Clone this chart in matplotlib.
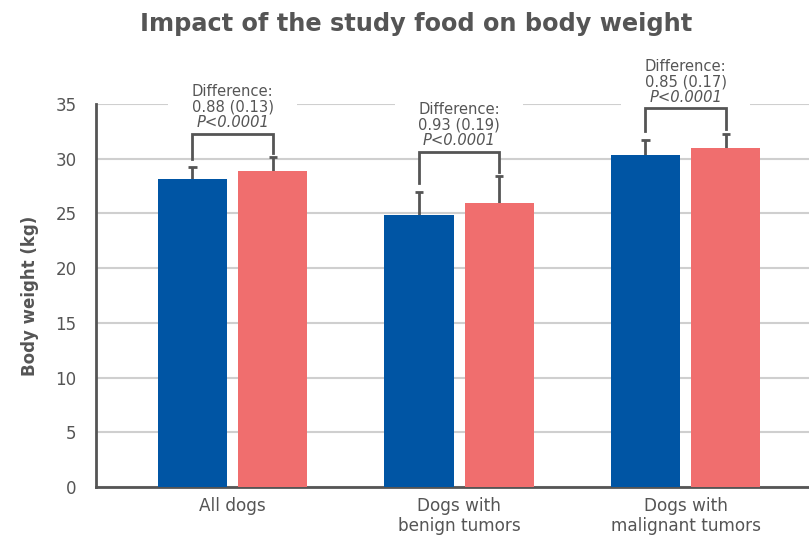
import matplotlib
matplotlib.use("Agg")
import matplotlib.pyplot as plt
from matplotlib.patches import Rectangle
import numpy as np

plt.rcParams['font.family'] = ['DejaVu Sans']

categories = ["All dogs", "Dogs with\nbenign tumors", "Dogs with\nmalignant tumors"]
baseline = [28.15, 24.85, 30.35]
final = [28.9, 25.95, 31.0]
baseline_err = [1.05, 2.1, 1.35]
final_err = [1.25, 2.45, 1.3]
diff_labels = ["0.88 (0.13)", "0.93 (0.19)", "0.85 (0.17)"]
p_labels = ["P<0.0001", "P<0.0001", "P<0.0001"]
bracket_tops = [32.3, 30.65, 34.6]
yticks = [0, 5, 10, 15, 20, 25, 30, 35]

gray = '#555555'
blue = '#0055a4'
red = '#f06e6e'

fig = plt.figure(figsize=(8.09, 5.37), dpi=100)
ax = fig.add_axes([96/809, 50/537, 1 - 96/809, (487-104)/537])

x = np.arange(len(categories))
w = 0.305
off = 0.177
cap = 0.018
ax.bar(x - off, baseline, w, color=blue, zorder=3)
ax.bar(x + off, final, w, color=red, zorder=3)
for xs, vals, errs in [(x - off, baseline, baseline_err), (x + off, final, final_err)]:
    tops = np.array(vals) + np.array(errs)
    ax.vlines(xs, vals, tops, color=gray, lw=2, zorder=2)
    ax.hlines(tops, xs - cap, xs + cap, color=gray, lw=2, zorder=2)

ax.set_ylim(0, 35)
ax.set_xlim(-0.603, 2.545)
ax.set_yticks(yticks)
ax.set_xticks(x)
ax.set_xticklabels(categories, fontsize=12.2, color=gray, linespacing=1.15)
ax.tick_params(axis='both', length=0, colors=gray)
ax.tick_params(axis='y', pad=14, labelsize=12)
ax.tick_params(axis='x', pad=7)
ax.grid(axis='y', color='#cfcfcf', linewidth=1.5, zorder=0)
ax.set_axisbelow(True)
for s in ['top', 'right']:
    ax.spines[s].set_visible(False)
for s in ['left', 'bottom']:
    ax.spines[s].set_color(gray)
    ax.spines[s].set_linewidth(2)
ax.set_ylabel("Body weight (kg)", fontsize=12, fontweight='bold', color=gray, labelpad=12)

for i in range(3):
    top = bracket_tops[i]
    l_bot = baseline[i] + baseline_err[i] + 0.8
    r_bot = final[i] + final_err[i] + 0.4
    ax.add_patch(Rectangle((x[i] - 0.283, top + 0.2), 0.566, 4.2, facecolor='white',
                           edgecolor='none', zorder=1, clip_on=False))
    ax.add_patch(Rectangle((x[i] - off, top - 1.0), 2 * off, 1.3, facecolor='white',
                           edgecolor='none', zorder=1, clip_on=False))
    ax.plot([x[i] - off, x[i] - off, x[i] + off, x[i] + off],
            [l_bot, top, top, r_bot], color=gray, lw=2, zorder=5, solid_joinstyle='miter')
    ax.text(x[i], top + 3.85, "Difference:", ha='center', va='center', fontsize=10.6,
            color=gray, zorder=6, clip_on=False)
    ax.text(x[i], top + 2.42, diff_labels[i], ha='center', va='center', fontsize=10.6,
            color=gray, zorder=6, clip_on=False)
    ax.text(x[i], top + 1.0, p_labels[i], ha='center', va='center', fontsize=10.6,
            color=gray, style='italic', zorder=6, clip_on=False)

fig.text(416/809, 1 - 24/537, "Impact of the study food on body weight", ha='center', va='center',
         fontsize=17.3, fontweight='bold', color=gray)

fig.savefig("out.png", dpi=100)
